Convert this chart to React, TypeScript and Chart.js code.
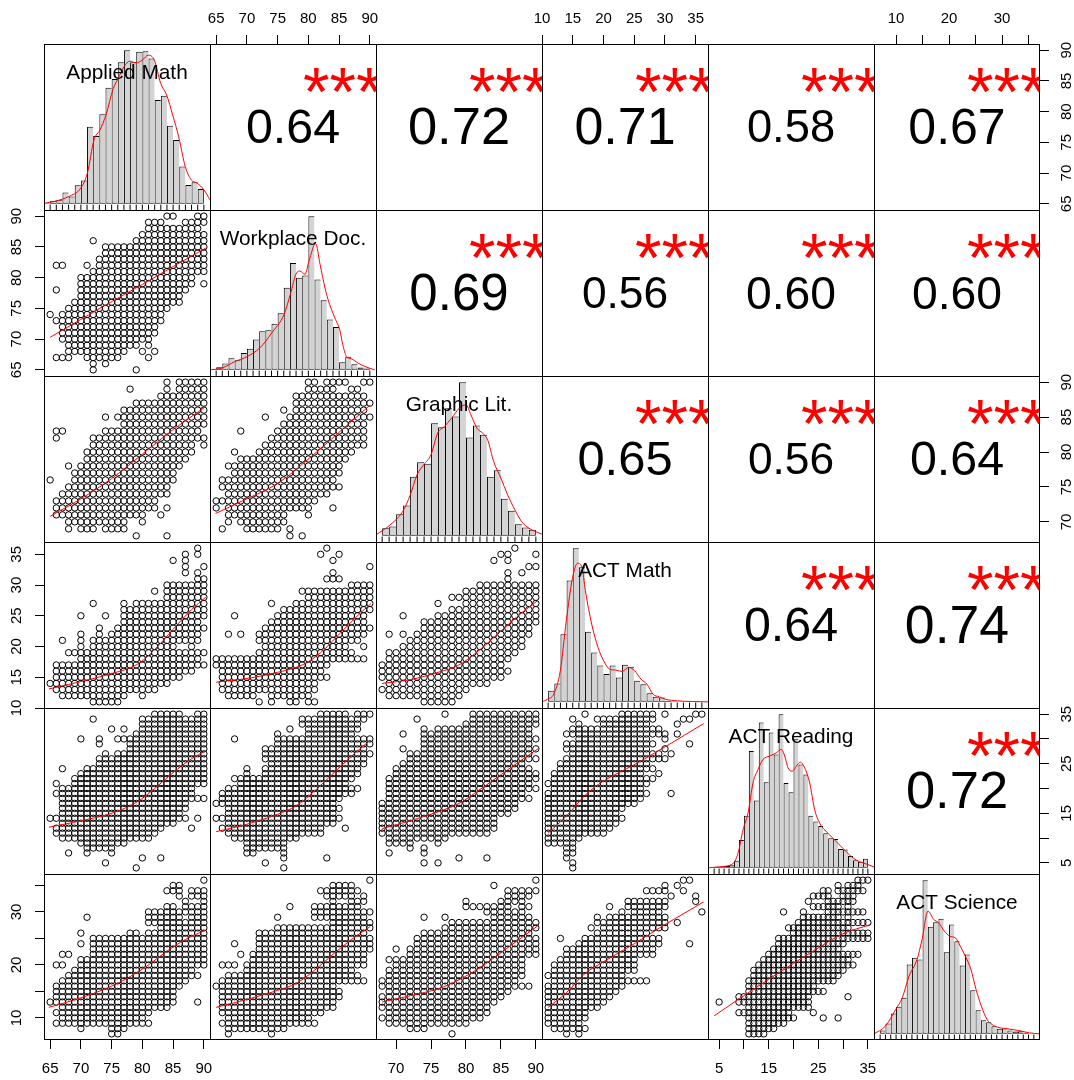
import React, { useEffect, useRef } from 'react';
import { Chart, registerables } from 'chart.js';

Chart.register(...registerables);

const FONT = '"Liberation Sans", Arial, Helvetica, sans-serif';

// ---------------- variables & axes ----------------
const varNames = ['Applied Math', 'Workplace Doc.', 'Graphic Lit.', 'ACT Math', 'ACT Reading', 'ACT Science'];
// plotting range of each variable (data range + 4%)
const varRanges: number[][] = [[64, 91], [64, 91], [67.12, 90.88], [10, 37], [2.76, 36.24], [5.84, 37.16]];
const ticksAM = [65, 70, 75, 80, 85, 90];
const ticksWD = [65, 70, 75, 80, 85, 90];
const ticksGL = [70, 75, 80, 85, 90];
const ticksAMa = [10, 15, 20, 25, 30, 35];
const ticksAR = [5, 10, 15, 20, 25, 30, 35];
const ticksAS = [10, 15, 20, 25, 30, 35];
const varTicks = [ticksAM, ticksWD, ticksGL, ticksAMa, ticksAR, ticksAS];
const labelsAR = [5, 15, 25, 35];
const labelsAS = [10, 20, 30];
const varTickLabels = [ticksAM, ticksWD, ticksGL, ticksAMa, labelsAR, labelsAS];

// ---------------- histograms (unit-width bins) ----------------
const histStart = [64, 64, 68, 11, 4, 7];
const histAM = [2, 9, 12, 34, 22, 56, 70, 232, 204, 269, 349, 375, 426, 462, 426, 457, 459, 437, 312, 325, 235, 192, 112, 57, 65, 45];
const histWD = [2, 8, 19, 35, 29, 50, 63, 91, 115, 118, 138, 169, 245, 319, 275, 282, 459, 270, 208, 150, 128, 23, 39, 17, 7, 4];
const histGL = [23, 28, 65, 91, 177, 221, 216, 338, 326, 383, 358, 461, 295, 331, 303, 177, 197, 111, 75, 35, 25, 18];
const histAMa = [33, 55, 202, 363, 460, 403, 210, 148, 109, 83, 109, 73, 111, 105, 63, 53, 26, 15, 13, 3, 2, 1, 1, 1, 1];
const histAR = [3, 4, 6, 8, 21, 83, 155, 348, 201, 433, 255, 403, 338, 458, 253, 225, 385, 308, 278, 155, 138, 125, 103, 88, 86, 56, 55, 35, 23, 18, 27];
const histAS = [10, 31, 61, 81, 108, 208, 228, 223, 461, 321, 335, 345, 245, 328, 278, 205, 238, 131, 71, 41, 35, 23, 15, 16, 10, 7, 8, 3, 1];
const histCounts = [histAM, histWD, histGL, histAMa, histAR, histAS];

// density curves [x, height]
const densAM = [[64.16, 2], [66.06, 9], [68.01, 22], [69.97, 47], [71.05, 92], [72.13, 192], [73.1, 222], [74.08, 267], [75.27, 347], [76.08, 377], [77.0, 412], [77.98, 429], [78.96, 424], [79.99, 432], [80.96, 447], [81.94, 432], [82.98, 362], [83.95, 327], [84.93, 267], [85.9, 202], [86.98, 112], [87.95, 72], [88.93, 62], [90.02, 42], [91.0, 12]];
const densWD = [[64.0, 0], [65.9, 5], [68.07, 25], [70.07, 40], [72.08, 65], [74.03, 110], [76.03, 165], [77.06, 225], [78.09, 290], [78.63, 295], [79.45, 285], [80.1, 325], [81.18, 377], [81.9, 315], [82.7, 245], [83.2, 210], [84.3, 155], [85.1, 120], [85.6, 75], [86.2, 40], [87.0, 33], [88.1, 20], [89.2, 10], [90.8, 0]];
const densGL = [[67.12, 3], [69.03, 31], [70.94, 73], [72.03, 123], [72.99, 183], [73.94, 213], [74.99, 243], [75.94, 308], [76.9, 328], [77.95, 353], [79.04, 383], [80.0, 393], [80.71, 363], [81.57, 323], [82.38, 308], [83.1, 288], [83.96, 223], [85.0, 173], [85.96, 123], [87.0, 78], [87.96, 43], [89.01, 23], [90.87, 5]];
const densAMa = [[10, 0], [10.92, 8], [11.9, 23], [12.98, 93], [13.95, 243], [14.99, 373], [15.8, 415], [16.5, 403], [17.05, 333], [18.08, 233], [19.11, 163], [20.03, 123], [21.0, 98], [22.03, 95], [23.0, 91], [24.09, 103], [25.07, 93], [26.1, 68], [27.07, 53], [28.05, 23], [29.08, 15], [30.05, 8], [32.06, 3], [37, 0]];
const densAR = [[2.76, 0], [5.12, 3], [7.8, 13], [8.81, 43], [9.82, 113], [10.83, 163], [11.84, 253], [12.84, 293], [13.85, 323], [15.2, 333], [16.54, 343], [17.55, 353], [18.23, 333], [18.9, 298], [19.76, 288], [20.57, 303], [21.38, 315], [22.26, 298], [23.27, 253], [24.28, 173], [25.29, 133], [26.29, 113], [27.3, 98], [28.64, 78], [29.99, 58], [31.34, 38], [32.67, 23], [34.02, 15], [36.24, 3]];
const densAS = [[5.84, 0], [7.99, 23], [9.93, 73], [11.17, 108], [12.45, 173], [13.96, 223], [14.9, 283], [16.03, 368], [17.1, 343], [18.05, 333], [19.12, 308], [20.13, 293], [21.18, 288], [22.12, 263], [23.07, 233], [24.14, 193], [25.09, 133], [26.1, 83], [27.17, 43], [28.11, 28], [29.18, 20], [31.13, 15], [33.14, 10], [35.15, 3], [37.1, 0]];
const densities = [densAM, densWD, densGL, densAMa, densAR, densAS];

// ---------------- correlations (upper triangle, row by row) ----------------
const corrRow1 = [0.64, 0.72, 0.71, 0.58, 0.67];
const corrRow2 = [0.69, 0.56, 0.60, 0.60];
const corrRow3 = [0.65, 0.56, 0.64];
const corrRow4 = [0.64, 0.74];
const corrRow5 = [0.72];
const corrRows = [corrRow1, corrRow2, corrRow3, corrRow4, corrRow5];
const signifStars = '***';

// ---------------- scatter panels ----------------
// each row: [y, x_from, x_to, x_from, x_to, ...] -> runs of touching circles
const scWD_AM = [
  [90, 84, 85, 89, 90], [89, 81, 83, 87, 90], [88, 81, 89], [87, 80, 90], [86, 72, 72, 79, 90],
  [85, 74, 90], [84, 74, 90], [83, 73, 90], [82, 66, 67, 71, 71, 73, 90], [81, 72, 90],
  [80, 70, 88], [79, 70, 88, 90, 90], [78, 66, 66, 70, 87], [77, 70, 86], [76, 69, 86],
  [75, 68, 84], [74, 65, 65, 67, 83], [73, 66, 83], [72, 67, 82], [71, 67, 82], [70, 67, 81],
  [69, 68, 79, 81, 81], [68, 68, 77, 80, 80, 82, 82], [67, 66, 68, 71, 76, 81, 81],
  [66, 72, 72, 74, 74], [65, 72, 72, 79, 79],
];
const scGL_AM = [
  [90, 84, 84, 86, 90], [89, 78, 78, 84, 84, 86, 90], [88, 83, 90], [87, 79, 90], [86, 77, 90],
  [85, 74, 74, 76, 90], [84, 77, 90], [83, 66, 67, 74, 89], [82, 66, 66, 72, 90], [81, 72, 88, 90, 90],
  [80, 71, 88], [79, 71, 87], [78, 68, 68, 70, 86], [77, 69, 85], [76, 65, 65, 69, 85], [75, 68, 84],
  [74, 67, 84], [73, 66, 82], [72, 66, 82, 84, 84], [71, 66, 80, 83, 83], [70, 68, 77, 80, 80],
  [69, 68, 68, 70, 72, 74, 77], [68, 79, 79, 84, 84],
];
const scGL_WD = [
  [90, 80, 81, 83, 86, 89, 90], [89, 80, 84, 87, 88], [88, 78, 89], [87, 78, 90], [86, 76, 76, 78, 89],
  [85, 73, 73, 77, 90], [84, 76, 89], [83, 69, 69, 75, 89], [82, 74, 89], [81, 73, 89],
  [80, 68, 68, 72, 87], [79, 69, 86], [78, 67, 85], [77, 68, 85], [76, 66, 84], [75, 66, 85],
  [74, 67, 83], [73, 65, 81], [72, 65, 65, 67, 80, 84, 84], [71, 67, 76, 80, 80], [70, 67, 67, 69, 76],
  [69, 66, 66, 70, 75, 77, 77], [68, 77, 77, 79, 79],
];
const scAMa_AM = [
  [36, 89, 89], [35, 87, 87, 89, 89], [34, 85, 85, 87, 87], [33, 87, 87, 90, 90], [32, 87, 87, 89, 89],
  [31, 89, 90], [30, 84, 90], [29, 82, 82, 84, 90], [28, 84, 90], [27, 72, 72, 77, 77, 79, 90],
  [26, 77, 90], [25, 70, 70, 74, 74, 77, 90], [24, 77, 89], [23, 73, 73, 76, 90],
  [22, 70, 70, 73, 73, 75, 89], [21, 67, 67, 70, 70, 72, 89], [20, 70, 70, 72, 85, 88, 88],
  [19, 68, 90], [18, 70, 89], [17, 66, 90], [16, 66, 88], [15, 66, 86], [14, 65, 84], [13, 66, 82],
  [12, 67, 77, 80, 80], [11, 72, 76],
];
const scAMa_WD = [
  [36, 83, 83], [35, 82, 82, 85, 85], [34, 84, 84], [33, 90, 90], [32, 84, 84], [31, 83, 85],
  [30, 87, 90], [29, 79, 90], [28, 80, 90], [27, 74, 74, 78, 90], [26, 76, 90], [25, 68, 68, 75, 89],
  [24, 74, 89], [23, 73, 90], [22, 67, 67, 69, 69, 72, 89], [21, 72, 88], [20, 73, 86, 89, 89],
  [19, 72, 87], [18, 65, 89], [17, 65, 83], [16, 66, 82], [15, 66, 83], [14, 66, 81], [13, 66, 81],
  [12, 67, 71, 74, 80], [11, 72, 72, 74, 74, 77, 78, 80, 81],
];
const scAMa_GL = [
  [36, 87, 87], [35, 85, 86, 90, 90], [34, 84, 84, 86, 86], [33, 89, 90], [32, 86, 86, 88, 88],
  [31, 86, 86], [30, 82, 90], [29, 80, 90], [28, 78, 90], [27, 76, 76, 80, 90], [26, 78, 90],
  [25, 71, 71, 76, 90], [24, 74, 90], [23, 74, 89], [22, 69, 69, 71, 71, 73, 89], [21, 72, 88],
  [20, 71, 88], [19, 69, 87], [18, 69, 86], [17, 68, 85], [16, 68, 86], [15, 68, 85], [14, 69, 83],
  [13, 68, 80], [12, 69, 79], [11, 74, 78],
];
const scAR_AM = [
  [35, 82, 86, 89, 90], [34, 72, 72, 80, 90], [33, 80, 90], [32, 75, 75, 77, 77, 80, 90], [31, 79, 90],
  [30, 70, 70, 73, 73, 76, 90], [29, 73, 73, 78, 90], [28, 78, 90], [27, 74, 74, 76, 90], [26, 73, 90],
  [25, 73, 90], [24, 67, 67, 71, 90], [23, 70, 90], [22, 69, 90], [21, 66, 66, 69, 90], [20, 67, 88],
  [19, 66, 88], [18, 67, 90], [17, 67, 87], [16, 67, 87], [15, 67, 86], [14, 65, 87, 89, 89],
  [13, 67, 85], [12, 66, 83, 88, 88], [11, 66, 82], [10, 67, 81], [9, 70, 77], [8, 71, 75],
  [7, 68, 68, 71, 71, 75, 75], [6, 80, 80, 83, 83], [5, 74, 74], [4, 79, 79],
];
const scAR_WD = [
  [35, 82, 86, 88, 90], [34, 79, 89], [33, 79, 88], [32, 77, 77, 80, 88], [31, 75, 75, 80, 87],
  [30, 68, 68, 75, 90], [29, 75, 90], [28, 73, 89], [27, 73, 90], [26, 73, 89], [25, 74, 89],
  [24, 70, 70, 73, 88], [23, 70, 70, 73, 88], [22, 68, 87], [21, 69, 86], [20, 67, 88], [19, 66, 87],
  [18, 66, 85], [17, 65, 84], [16, 67, 85], [15, 67, 84], [14, 65, 85], [13, 67, 84],
  [12, 66, 82, 86, 86], [11, 67, 82], [10, 68, 78], [9, 70, 76], [8, 70, 76], [7, 70, 71, 76, 76],
  [6, 76, 76, 83, 83], [5, 73, 73], [4, 76, 76],
];
const scAR_GL = [
  [35, 77, 77, 81, 90], [34, 73, 73, 81, 90], [33, 80, 90], [32, 74, 74, 76, 89], [31, 71, 71, 74, 89],
  [30, 74, 90], [29, 74, 89], [28, 71, 71, 74, 90], [27, 72, 89], [26, 72, 90], [25, 71, 88],
  [24, 70, 89], [23, 70, 90], [22, 69, 90], [21, 69, 89], [20, 69, 90], [19, 69, 88], [18, 69, 89],
  [17, 68, 87], [16, 68, 87], [15, 68, 86], [14, 68, 84], [13, 68, 84], [12, 68, 84], [11, 68, 83],
  [10, 69, 77], [9, 69, 72, 76, 76], [8, 72, 72, 74, 74], [7, 69, 69, 74, 74], [6, 79, 79, 83, 83],
  [5, 74, 74, 76, 76],
];
const scAR_AMa = [
  [35, 17, 17, 23, 28, 30, 30, 35, 36], [34, 15, 15, 19, 28, 33, 34], [33, 16, 16, 20, 27, 32, 32],
  [32, 15, 29], [31, 14, 30, 32, 32], [30, 16, 27, 30, 30], [29, 14, 28, 34, 34], [28, 14, 27, 30, 30],
  [27, 15, 29, 31, 31], [26, 14, 30], [25, 13, 27], [24, 13, 28], [23, 12, 26, 29, 29], [22, 12, 28],
  [21, 11, 27], [20, 12, 26], [19, 11, 27, 31, 31], [18, 11, 26], [17, 11, 25], [16, 11, 23],
  [15, 11, 22], [14, 11, 23], [13, 11, 22], [12, 11, 21], [11, 11, 20], [10, 11, 16], [9, 11, 15],
  [8, 14, 15], [7, 14, 15], [6, 14, 14], [5, 15, 15], [4, 15, 15],
];
const scAS_AM = [
  [36, 90, 90], [35, 85, 86], [34, 84, 86, 88, 90], [33, 86, 86, 88, 90], [32, 87, 87, 90, 90],
  [31, 84, 85, 87, 90], [30, 81, 90], [29, 71, 71, 81, 86, 88, 90], [28, 81, 90], [27, 83, 90],
  [26, 70, 70, 78, 79, 81, 90], [25, 72, 90], [24, 70, 70, 72, 90], [23, 72, 90], [22, 67, 68, 72, 90],
  [21, 70, 90], [20, 66, 67, 70, 90], [19, 69, 88], [18, 68, 89], [17, 67, 87], [16, 66, 86],
  [15, 66, 85], [14, 66, 85], [13, 65, 85, 89, 89], [12, 67, 84], [11, 66, 81], [10, 67, 80],
  [9, 66, 81], [8, 70, 70, 75, 77], [7, 75, 76],
];
const scAS_WD = [
  [36, 90, 90], [35, 84, 87], [34, 82, 88], [33, 83, 87, 89, 89], [32, 84, 84, 87, 89],
  [31, 77, 77, 81, 88], [30, 81, 90], [29, 75, 75, 81, 89], [28, 84, 90], [27, 75, 90], [26, 72, 89],
  [25, 72, 90], [24, 68, 68, 72, 90], [23, 72, 90], [22, 69, 69, 71, 89], [21, 71, 89],
  [20, 66, 68, 70, 89], [19, 70, 87], [18, 67, 88], [17, 66, 89], [16, 65, 84], [15, 66, 85],
  [14, 66, 85], [13, 66, 84], [12, 66, 84], [11, 66, 82], [10, 67, 80], [9, 66, 81], [8, 67, 76],
  [7, 67, 67, 74, 74],
];
const scAS_GL = [
  [36, 90, 90], [35, 84, 84], [34, 86, 90], [33, 86, 89], [32, 80, 80, 85, 88], [31, 80, 86, 88, 89],
  [30, 83, 88], [29, 74, 74, 77, 77, 84, 89], [28, 78, 90], [27, 77, 90], [26, 74, 89], [25, 73, 90],
  [24, 73, 90], [23, 70, 70, 72, 90], [22, 72, 90], [21, 69, 88], [20, 70, 88], [19, 69, 88],
  [18, 69, 88], [17, 68, 87], [16, 68, 89], [15, 69, 86], [14, 68, 85], [13, 68, 84], [12, 68, 83],
  [11, 69, 83], [10, 68, 82], [9, 69, 80], [8, 72, 74], [7, 78, 78],
];
const scAS_AMa = [
  [36, 33, 34], [35, 30, 30, 32, 32], [34, 27, 30, 33, 33], [33, 31, 31, 35, 35], [32, 24, 30, 35, 35],
  [31, 21, 21, 24, 30], [30, 23, 23, 25, 29, 36, 36], [29, 19, 19, 21, 30], [28, 19, 30, 32, 32],
  [27, 18, 18, 20, 30], [26, 19, 27], [25, 13, 13, 17, 29], [24, 16, 29, 34, 34], [23, 14, 28],
  [22, 14, 28], [21, 13, 25], [20, 12, 25], [19, 12, 25], [18, 11, 23], [17, 12, 27], [16, 11, 23],
  [15, 11, 22], [14, 11, 21], [13, 11, 20], [12, 11, 19], [11, 11, 17], [10, 11, 17], [9, 11, 16],
  [8, 12, 17], [7, 14, 14, 16, 16],
];
const scAS_AR = [
  [36, 33, 35], [35, 29, 29, 31, 33], [34, 26, 27, 29, 34], [33, 24, 27, 30, 32], [32, 23, 23, 27, 32],
  [31, 24, 29, 31, 31], [30, 18, 18, 22, 22, 27, 34], [29, 22, 29, 31, 31], [28, 21, 35], [27, 19, 31],
  [26, 20, 35], [25, 17, 35], [24, 17, 30], [23, 16, 29], [22, 15, 33], [21, 14, 31], [20, 13, 32],
  [19, 12, 30], [18, 12, 29], [17, 11, 28], [16, 11, 24], [15, 11, 26], [14, 9, 23, 31, 31],
  [13, 5, 5, 9, 23], [12, 11, 23], [11, 9, 19, 24, 24], [10, 11, 20, 26, 26, 29, 29], [9, 11, 18],
  [8, 11, 16], [7, 11, 14],
];

// smooth (lowess) lines [x, y]
const lwWD_AM = [[65, 70.3], [70, 73.2], [75, 76.1], [80, 78.9], [85, 81.8], [90.3, 84.8]];
const lwGL_AM = [[65, 70.8], [70, 73.3], [75, 76.2], [80, 79.7], [85, 83.2], [90.3, 86.5]];
const lwGL_WD = [[64.9, 71.2], [69.5, 73.1], [75, 75.5], [80.4, 79.3], [84.2, 82.2], [90, 86.7]];
const lwAMa_AM = [[64.8, 13.1], [70, 14.3], [75, 15.6], [79, 17], [82, 19.5], [85, 22.8], [88, 26], [90.3, 28]];
const lwAMa_WD = [[65, 14.2], [70, 14.8], [75, 15.8], [79, 17], [82, 19], [85, 22], [88, 25], [90.2, 27]];
const lwAMa_GL = [[68, 14], [72, 14.6], [76, 15.8], [79, 17], [82, 19.5], [85, 22.5], [88, 25.5], [90.3, 27.5]];
const lwAR_AM = [[64.8, 12.2], [70, 13.5], [75, 15], [79, 17.2], [82, 20], [85, 23.2], [88, 26], [90.3, 27.6]];
const lwAR_WD = [[65, 11.3], [70, 12.8], [75, 14.8], [78, 16.5], [81, 19.5], [84, 23], [87, 26.5], [90, 29.7]];
const lwAR_GL = [[68, 11.9], [72, 13.5], [76, 15.3], [79, 17], [82, 19.8], [85, 22.8], [88, 25.8], [90.3, 28]];
const lwAR_AMa = [[11, 11], [14, 14.5], [17, 18.6], [20, 21.5], [25, 24.8], [30, 28.4], [36.3, 33.1]];
const lwAS_AM = [[64.8, 12], [70, 13.8], [75, 16], [78, 17.8], [81, 20], [84, 22.6], [87, 24.8], [90.3, 26.6]];
const lwAS_WD = [[65, 12], [70, 13.5], [75, 15.2], [78, 16.5], [81, 19], [84, 22], [87, 24.8], [90, 27.2]];
const lwAS_GL = [[68, 13], [72, 14.2], [76, 15.5], [79, 17.2], [82, 19.5], [85, 22.3], [88, 25.2], [90.3, 27.4]];
const lwAS_AMa = [[11, 12], [14, 14.8], [17, 18.4], [20, 20.6], [25, 24], [30, 27.6], [36.3, 31.9]];
const lwAS_AR = [[4, 10.4], [10, 14.2], [15, 17.3], [20, 20.3], [25, 23.2], [30, 25.9], [35.5, 27.6]];

const scatterPanels: Record<string, { rows: number[][]; smooth: number[][] }> = {
  '10': { rows: scWD_AM, smooth: lwWD_AM },
  '20': { rows: scGL_AM, smooth: lwGL_AM },
  '21': { rows: scGL_WD, smooth: lwGL_WD },
  '30': { rows: scAMa_AM, smooth: lwAMa_AM },
  '31': { rows: scAMa_WD, smooth: lwAMa_WD },
  '32': { rows: scAMa_GL, smooth: lwAMa_GL },
  '40': { rows: scAR_AM, smooth: lwAR_AM },
  '41': { rows: scAR_WD, smooth: lwAR_WD },
  '42': { rows: scAR_GL, smooth: lwAR_GL },
  '43': { rows: scAR_AMa, smooth: lwAR_AMa },
  '50': { rows: scAS_AM, smooth: lwAS_AM },
  '51': { rows: scAS_WD, smooth: lwAS_WD },
  '52': { rows: scAS_GL, smooth: lwAS_GL },
  '53': { rows: scAS_AMa, smooth: lwAS_AMa },
  '54': { rows: scAS_AR, smooth: lwAS_AR },
};

// ---------------- layout ----------------
const GRID_X0 = 44;
const GRID_Y0 = 44;
const CELL = 166;
const STRIP_TOP = 44;
const STRIP_BOTTOM = 40;
const STRIP_LEFT = 44;
const STRIP_RIGHT = 34;
const MARGIN = 14;
const TICK_LEN = 9;
const TICK_FONT = 15;
const CORR_K = 51.5;
const STAR_SIZE = 68;
const NAME_SIZE = 20.8;
const POINT_R = 3.2;

function expandRuns(rows: number[][]) {
  const pts: { x: number; y: number }[] = [];
  for (const r of rows) {
    const y = r[0];
    for (let k = 1; k + 1 < r.length; k += 2) {
      for (let x = r[k]; x <= r[k + 1]; x++) pts.push({ x, y });
    }
  }
  return pts;
}

function axisFlags(i: number, j: number) {
  return {
    top: i === 0 && j % 2 === 1,
    bottom: i === 5 && j % 2 === 0,
    left: j === 0 && i % 2 === 1,
    right: j === 5 && i % 2 === 0,
  };
}

function axisScale(axis: 'x' | 'y', varIdx: number, position: string, show: boolean, range: number[]) {
  const tickVals = varIdx >= 0 ? varTicks[varIdx] : [];
  const labelVals = varIdx >= 0 ? varTickLabels[varIdx] : [];
  let padding = 0;
  if (position === 'top') padding = 7.5;
  if (position === 'bottom') padding = 10.5;
  if (position === 'left') padding = 10;
  if (position === 'right') padding = 9.4;
  return {
    type: 'linear',
    position,
    min: range[0],
    max: range[1],
    display: show,
    offset: false,
    afterBuildTicks: (s: any) => {
      s.ticks = tickVals.map((v) => ({ value: v }));
    },
    afterFit: (s: any) => {
      if (show) {
        if (axis === 'x') s.height = position === 'top' ? STRIP_TOP : STRIP_BOTTOM;
        else s.width = position === 'left' ? STRIP_LEFT : STRIP_RIGHT;
      }
      s.paddingLeft = 0;
      s.paddingRight = 0;
      s.paddingTop = 0;
      s.paddingBottom = 0;
    },
    grid: { display: show, offset: false, drawOnChartArea: false, drawTicks: true, tickLength: TICK_LEN, color: '#000', lineWidth: 1 },
    border: { display: false },
    ticks: {
      display: show,
      autoSkip: false,
      color: '#000',
      font: { family: FONT, size: TICK_FONT },
      padding,
      minRotation: axis === 'y' ? 90 : 0,
      maxRotation: axis === 'y' ? 90 : 0,
      crossAlign: axis === 'y' ? 'center' : 'near',
      callback: (v: any) => (labelVals.includes(Number(v)) ? String(v) : ''),
    },
  };
}

function buildConfig(i: number, j: number): any {
  const f = axisFlags(i, j);
  const isDiag = i === j;
  let yRange = varRanges[i];
  if (isDiag) {
    const M = Math.max(...histCounts[i]);
    yRange = [-0.04 * M, 1.04 * M];
  }
  const scales = {
    x: axisScale('x', j, f.top ? 'top' : 'bottom', f.top || f.bottom, varRanges[j]),
    y: axisScale('y', isDiag ? -1 : i, f.right ? 'right' : 'left', f.left || f.right, yRange),
  };

  const datasets: any[] = [];
  if (i > j) {
    const p = scatterPanels[`${i}${j}`];
    datasets.push({
      type: 'line',
      data: p.smooth.map(([x, y]) => ({ x, y })),
      borderColor: '#FF0000',
      borderWidth: 1,
      pointRadius: 0,
      tension: 0.35,
      fill: false,
      clip: 0,
      order: 0,
    });
    datasets.push({
      type: 'scatter',
      data: expandRuns(p.rows),
      pointStyle: 'circle',
      pointRadius: POINT_R,
      borderColor: '#000',
      backgroundColor: 'rgba(0,0,0,0)',
      borderWidth: 1,
      clip: 0,
      order: 1,
    });
  } else if (isDiag) {
    const counts = histCounts[i];
    const start = histStart[i];
    const M = Math.max(...counts);
    const n = counts.length;
    datasets.push({
      type: 'line',
      data: densities[i].map(([x, y]) => ({ x, y })),
      borderColor: '#FF0000',
      borderWidth: 1,
      pointRadius: 0,
      cubicInterpolationMode: 'monotone',
      fill: false,
      clip: 0,
      order: 0,
    });
    const edges: number[] = [];
    for (let k = 0; k <= n; k++) edges.push(start + k);
    datasets.push({
      type: 'scatter',
      data: edges.map((x) => ({ x, y: -0.022 * M })),
      pointStyle: 'line',
      rotation: 90,
      pointRadius: 2.7,
      borderColor: '#000',
      borderWidth: 1,
      clip: 0,
      order: 1,
    });
    datasets.push({
      type: 'bar',
      data: counts.map((c, k) => ({ x: start + k + 0.5, y: c })),
      backgroundColor: '#D3D3D3',
      borderColor: '#000',
      borderWidth: (ctx: any) => ({ top: 1, left: 1, bottom: 1, right: ctx.dataIndex === n - 1 ? 1 : 0 }),
      borderSkipped: false,
      barPercentage: 1,
      categoryPercentage: 1,
      grouped: false,
      inflateAmount: 0,
      clip: 0,
      order: 2,
    });
  }

  const decor = {
    id: 'panelDecor',
    afterDraw(chart: any) {
      const { ctx, chartArea: a } = chart;
      const w = a.right - a.left;
      const h = a.bottom - a.top;
      ctx.save();
      ctx.beginPath();
      ctx.rect(a.left, a.top, w, h);
      ctx.clip();
      if (i < j) {
        const r = corrRows[i][j - i - 1];
        ctx.fillStyle = '#000';
        ctx.textAlign = 'center';
        ctx.textBaseline = 'middle';
        ctx.font = `${(CORR_K * (Math.abs(r) + 0.3)).toFixed(1)}px ${FONT}`;
        ctx.fillText(r.toFixed(2), a.left + w / 2, a.top + h / 2 + 3);
        ctx.fillStyle = '#FF0000';
        ctx.textBaseline = 'alphabetic';
        ctx.font = `${STAR_SIZE}px ${FONT}`;
        ctx.fillText(signifStars, a.left + 0.8 * w, a.top + 71);
      } else if (isDiag) {
        ctx.fillStyle = '#000';
        ctx.textAlign = 'center';
        ctx.textBaseline = 'alphabetic';
        ctx.font = `${NAME_SIZE}px ${FONT}`;
        ctx.fillText(varNames[i], a.left + w / 2, a.top + 35);
      }
      ctx.restore();

      ctx.save();
      ctx.strokeStyle = '#000';
      ctx.lineWidth = 1;
      ctx.beginPath();
      ctx.moveTo(a.left + 0.5, a.top);
      ctx.lineTo(a.left + 0.5, a.bottom);
      ctx.moveTo(a.left, a.top + 0.5);
      ctx.lineTo(a.right, a.top + 0.5);
      if (j === 5) {
        ctx.moveTo(a.right - 0.5, a.top);
        ctx.lineTo(a.right - 0.5, a.bottom);
      }
      if (i === 5) {
        ctx.moveTo(a.left, a.bottom - 0.5);
        ctx.lineTo(a.right, a.bottom - 0.5);
      }
      ctx.stroke();
      ctx.restore();
    },
  };

  return {
    type: 'scatter',
    data: { datasets },
    options: {
      animation: false,
      responsive: false,
      maintainAspectRatio: false,
      devicePixelRatio: 1,
      events: [],
      layout: { padding: MARGIN, autoPadding: false },
      plugins: { legend: { display: false }, tooltip: { enabled: false }, title: { display: false } },
      scales,
    },
    plugins: [decor],
  };
}

function Cell({ i, j }: { i: number; j: number }) {
  const ref = useRef<HTMLCanvasElement>(null);
  const f = axisFlags(i, j);
  const left = GRID_X0 + j * CELL - (f.left ? STRIP_LEFT : 0) - MARGIN;
  const top = GRID_Y0 + i * CELL - (f.top ? STRIP_TOP : 0) - MARGIN;
  const width = CELL + (f.left ? STRIP_LEFT : 0) + (f.right ? STRIP_RIGHT : 0) + 2 * MARGIN;
  const height = CELL + (f.top ? STRIP_TOP : 0) + (f.bottom ? STRIP_BOTTOM : 0) + 2 * MARGIN;

  useEffect(() => {
    if (!ref.current) return;
    const chart = new Chart(ref.current, buildConfig(i, j));
    return () => chart.destroy();
  }, [i, j]);

  return (
    <canvas
      ref={ref}
      width={width}
      height={height}
      style={{ position: 'absolute', left, top, width, height, display: 'block' }}
    />
  );
}

export default function App() {
  const cells: React.ReactElement[] = [];
  for (let i = 0; i < 6; i++) {
    for (let j = 0; j < 6; j++) {
      cells.push(<Cell key={`${i}-${j}`} i={i} j={j} />);
    }
  }
  return (
    <div
      style={{
        position: 'absolute',
        left: 0,
        top: 0,
        width: 1074,
        height: 1080,
        background: '#fff',
        overflow: 'hidden',
      }}
    >
      {cells}
    </div>
  );
}
